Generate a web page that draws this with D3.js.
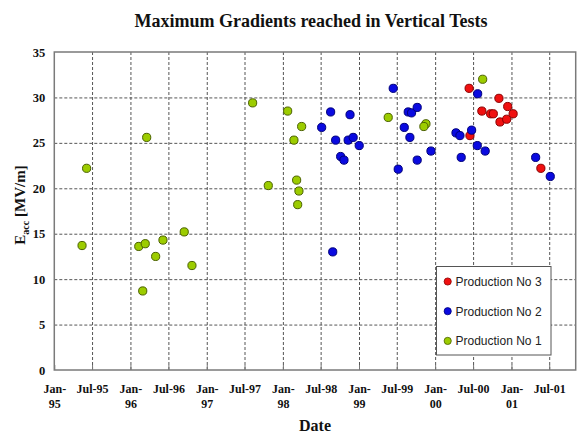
<!DOCTYPE html>
<html>
<head>
<meta charset="utf-8">
<script src="https://cdn.jsdelivr.net/npm/d3@7"></script>
<style>
  html, body { margin: 0; padding: 0; background: #fff; }
  svg { display: block; }
</style>
</head>
<body>
<svg id="chart" width="578" height="435"></svg>
<script>
// ---------------- DATA ----------------
const chartTitle = "Maximum Gradients reached in Vertical Tests";
const xTickDates = ["1995-01-01","1995-07-01","1996-01-01","1996-07-01","1997-01-01","1997-07-01",
  "1998-01-01","1998-07-01","1999-01-01","1999-07-01","2000-01-01","2000-07-01","2001-01-01","2001-07-01"];
const xTickLabels = ["Jan-95","Jul-95","Jan-96","Jul-96","Jan-97","Jul-97","Jan-98","Jul-98",
  "Jan-99","Jul-99","Jan-00","Jul-00","Jan-01","Jul-01"];
const yTicks = [0, 5, 10, 15, 20, 25, 30, 35];
const xDomain = ["1995-01-01", "2001-11-05"];
const yDomain = [0, 35];

const seriesNames = ["Production No 3", "Production No 2", "Production No 1"];

const prod3Dates = ["2000-06-12","2000-06-16","2000-08-12","2000-09-23","2000-10-06","2000-11-02",
  "2000-11-07","2000-12-09","2000-12-14","2001-01-09","2001-05-22"];
const prod3Values = [31.0, 25.8, 28.5, 28.2, 28.2, 29.9, 27.3, 27.6, 29.0, 28.2, 22.2];

const prod2Dates = ["1998-07-06","1998-08-18","1998-09-11","1998-10-05","1998-10-21","1998-11-19",
  "1998-11-10","1998-12-04","1999-01-02","1998-08-28","1999-06-14","1999-07-08","1999-08-25",
  "1999-09-10","1999-10-07","1999-08-06","1999-09-02","1999-10-07","1999-12-12","2000-04-10",
  "2000-04-29","2000-05-05","2000-06-24","2000-07-23","2000-07-21","2000-08-28","2001-04-27","2001-07-06"];
const prod2Values = [26.7, 28.4, 25.3, 23.5, 23.1, 28.1, 25.3, 25.6, 24.7, 13.0, 31.0, 22.1, 28.4,
  28.3, 28.9, 26.7, 25.6, 23.1, 24.1, 26.1, 25.8, 23.4, 26.4, 30.4, 24.7, 24.1, 23.4, 21.3];

const prod1Dates = ["1995-06-05","1995-05-14","1996-03-19","1996-02-10","1996-03-12","1996-02-29",
  "1996-05-01","1996-06-05","1996-09-15","1996-10-22","1997-08-09","1997-10-23","1998-01-24",
  "1998-04-01","1998-02-23","1998-03-08","1998-03-19","1998-03-13","1999-05-21","1999-11-18",
  "1999-11-08","2000-08-16"];
const prod1Values = [22.2, 13.7, 25.6, 13.6, 13.9, 8.7, 12.5, 14.3, 15.2, 11.5, 29.4, 20.3, 28.5,
  26.8, 25.3, 20.9, 19.7, 18.2, 27.8, 27.1, 26.8, 32.0];

// ---------------- STYLE ----------------
const fills   = ["#f01010", "#0a0ae0", "#9ccc00"];
const strokes = ["#8a0000", "#00007a", "#4a6000"];
const serif = "'Liberation Serif', 'Times New Roman', serif";
const sans = "'Liberation Sans', Arial, sans-serif";

const margin = { left: 54.3, right: 578 - 575.7, top: 52, bottom: 435 - 370 };
const W = 578, H = 435;
const x0 = margin.left, x1 = W - margin.right, y0 = H - margin.bottom, y1 = margin.top;

const parse = d3.timeParse("%Y-%m-%d");
const x = d3.scaleTime().domain(xDomain.map(parse)).range([x0, x1]);
const y = d3.scaleLinear().domain(yDomain).range([y0, y1]);

const svg = d3.select("#chart");

// Title
svg.append("text")
  .attr("x", 311).attr("y", 27)
  .attr("text-anchor", "middle")
  .attr("font-family", serif).attr("font-weight", "bold").attr("font-size", 18)
  .attr("fill", "#111")
  .text(chartTitle);

const tickDates = xTickDates.map(parse);

// Grid lines (x)
const gx = svg.append("g").attr("transform", `translate(0,${y0})`)
  .call(d3.axisBottom(x).tickValues(tickDates.slice(1)).tickSize(-(y0 - y1)).tickFormat(""));
gx.select(".domain").remove();
gx.selectAll("line").attr("stroke", "#555").attr("stroke-width", 1).attr("stroke-dasharray", "3,2");

// Grid lines (y)
const gy = svg.append("g").attr("transform", `translate(${x0},0)`)
  .call(d3.axisLeft(y).tickValues(yTicks.slice(1, -1)).tickSize(-(x1 - x0)).tickFormat(""));
gy.select(".domain").remove();
gy.selectAll("line").attr("stroke", "#555").attr("stroke-width", 1).attr("stroke-dasharray", "3,2");

// Inner tick marks on bottom axis
const tk = svg.append("g").attr("transform", `translate(0,${y0})`)
  .call(d3.axisTop(x).tickValues(tickDates).tickSize(5).tickFormat(""));
tk.select(".domain").remove();
tk.selectAll("line").attr("stroke", "#777").attr("stroke-width", 1);

// Frame
svg.append("rect")
  .attr("x", x0).attr("y", y1).attr("width", x1 - x0).attr("height", y0 - y1)
  .attr("fill", "none").attr("stroke", "#7a7a7a").attr("stroke-width", 1.5);

// X axis labels
const xa = svg.append("g").attr("transform", `translate(0,${y0})`)
  .call(d3.axisBottom(x).tickValues(tickDates).tickSize(0)
    .tickFormat((d, i) => xTickLabels[i]));
xa.select(".domain").remove();
xa.selectAll("text")
  .attr("font-family", serif).attr("font-weight", "bold").attr("font-size", 12)
  .attr("fill", "#111").attr("dy", null).attr("y", 0)
  .each(function(d, i) {
    const lab = xTickLabels[i];
    const t = d3.select(this).text(null);
    if (lab.startsWith("Jan")) {
      t.append("tspan").attr("x", 0).attr("y", 23).text(lab.slice(0, 4));
      t.append("tspan").attr("x", 0).attr("y", 37.5).text(lab.slice(4));
    } else {
      t.append("tspan").attr("x", 0).attr("y", 23).text(lab);
    }
  });

// Y axis labels
const ya = svg.append("g").attr("transform", `translate(${x0},0)`)
  .call(d3.axisLeft(y).tickValues(yTicks).tickSize(0).tickPadding(9));
ya.select(".domain").remove();
ya.selectAll("text")
  .attr("font-family", serif).attr("font-weight", "bold").attr("font-size", 12.5)
  .attr("fill", "#111");

// Axis titles
svg.append("text")
  .attr("x", 315).attr("y", 431)
  .attr("text-anchor", "middle")
  .attr("font-family", serif).attr("font-weight", "bold").attr("font-size", 16)
  .attr("fill", "#111")
  .text("Date");

const yl = svg.append("text")
  .attr("transform", "translate(25,205) rotate(-90)")
  .attr("text-anchor", "middle")
  .attr("font-family", serif).attr("font-weight", "bold").attr("font-size", 15)
  .attr("fill", "#111");
yl.append("tspan").text("E");
yl.append("tspan").attr("font-size", 10).attr("dy", 4).text("acc");
yl.append("tspan").attr("dy", -4).text(" [MV/m]");

// Data points (drawn No3, No2, No1)
const series = [
  { dates: prod3Dates, values: prod3Values },
  { dates: prod2Dates, values: prod2Values },
  { dates: prod1Dates, values: prod1Values }
];
series.forEach((s, k) => {
  svg.append("g").selectAll("circle")
    .data(s.dates.map((d, i) => ({ date: parse(d), value: s.values[i] })))
    .join("circle")
    .attr("cx", d => x(d.date)).attr("cy", d => y(d.value))
    .attr("r", 4.1)
    .attr("fill", fills[k]).attr("stroke", strokes[k]).attr("stroke-width", 1);
});

// Legend
const lg = svg.append("g");
lg.append("rect")
  .attr("x", 436.5).attr("y", 266.5).attr("width", 114.5).attr("height", 88.5)
  .attr("fill", "#fff").attr("stroke", "#555").attr("stroke-width", 1);
seriesNames.forEach((name, k) => {
  const cy = 281.5 + k * 29.7;
  lg.append("circle").attr("cx", 447.7).attr("cy", cy).attr("r", 3.6)
    .attr("fill", fills[k]).attr("stroke", strokes[k]).attr("stroke-width", 0.8);
  lg.append("text").attr("x", 455.5).attr("y", cy + 4.3)
    .attr("font-family", sans).attr("font-size", 12).attr("fill", "#222")
    .text(name);
});
</script>
</body>
</html>
